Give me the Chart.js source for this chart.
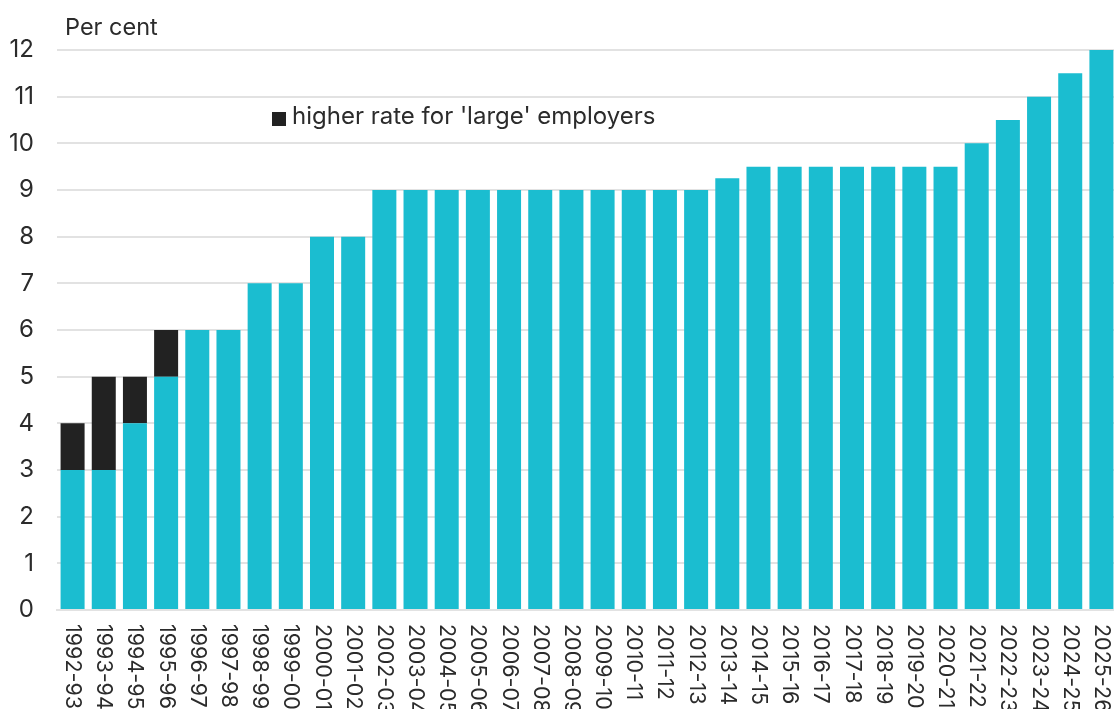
<!DOCTYPE html>
<html lang="en">
<head>
    <meta charset="UTF-8">
    <title>Superannuation Guarantee Rate</title>
    <script src="https://cdn.jsdelivr.net/npm/chart.js"></script>
    <style>
        html, body { margin: 0; padding: 0; overflow: hidden; background: #fff; }
        #wrap { width: 1117px; height: 709px; }
    </style>
</head>
<body>
    <div id="wrap">
        <canvas id="sgChart"></canvas>
    </div>

    <script>
        // Financial years
        const years = [
            '1992-93', '1993-94', '1994-95', '1995-96', '1996-97', '1997-98', '1998-99', '1999-00',
            '2000-01', '2001-02', '2002-03', '2003-04', '2004-05', '2005-06', '2006-07', '2007-08',
            '2008-09', '2009-10', '2010-11', '2011-12', '2012-13', '2013-14', '2014-15', '2015-16',
            '2016-17', '2017-18', '2018-19', '2019-20', '2020-21', '2021-22', '2022-23', '2023-24',
            '2024-25', '2025-26'
        ];

        // Base rate (per cent)
        const baseRate = [
            3, 3, 4, 5, 6, 6, 7, 7,
            8, 8, 9, 9, 9, 9, 9, 9,
            9, 9, 9, 9, 9, 9.25, 9.5, 9.5,
            9.5, 9.5, 9.5, 9.5, 9.5, 10, 10.5, 11,
            11.5, 12
        ];

        // Extra on top of the base rate for 'large' employers
        const largeExtra = [
            1, 2, 1, 1, 0, 0, 0, 0,
            0, 0, 0, 0, 0, 0, 0, 0,
            0, 0, 0, 0, 0, 0, 0, 0,
            0, 0, 0, 0, 0, 0, 0, 0,
            0, 0
        ];

        const yTicks = [0, 1, 2, 3, 4, 5, 6, 7, 8, 9, 10, 11, 12];

        const teal = '#1bbdd0';
        const dark = '#222222';
        const textColor = '#2b2b2b';
        const fontFamily = 'Inter, "Noto Sans", sans-serif';

        // x labels (rotated clockwise), unit label and inline legend
        const extras = {
            id: 'extras',
            afterDraw(chart) {
                const ctx = chart.ctx;
                const xScale = chart.scales.x;
                const area = chart.chartArea;
                ctx.save();
                ctx.fillStyle = textColor;
                ctx.font = '21.5px ' + fontFamily;
                ctx.textAlign = 'left';
                ctx.textBaseline = 'middle';
                years.forEach((y, i) => {
                    const x = xScale.getPixelForValue(i);
                    ctx.save();
                    ctx.translate(x, area.bottom + 14);
                    ctx.rotate(Math.PI / 2);
                    ctx.fillText(y, 0, 0);
                    ctx.restore();
                });

                ctx.font = '23.5px ' + fontFamily;
                ctx.fillText('Per cent', 65, 28);

                ctx.fillStyle = dark;
                ctx.fillRect(272, 112, 14, 14);
                ctx.fillStyle = textColor;
                ctx.font = '24px ' + fontFamily;
                ctx.fillText(chart.data.datasets[1].label, 292, 117);
                ctx.restore();
            }
        };

        new Chart(document.getElementById('sgChart'), {
            type: 'bar',
            data: {
                labels: years,
                datasets: [{
                    label: 'Superannuation guarantee rate',
                    data: baseRate,
                    backgroundColor: teal,
                    categoryPercentage: 1,
                    barPercentage: 0.77
                }, {
                    label: "higher rate for 'large' employers",
                    data: largeExtra,
                    backgroundColor: dark,
                    categoryPercentage: 1,
                    barPercentage: 0.77
                }]
            },
            options: {
                responsive: true,
                maintainAspectRatio: false,
                animation: false,
                layout: {
                    padding: { left: 0, top: 50, right: 0, bottom: 91 }
                },
                plugins: {
                    legend: { display: false },
                    tooltip: { enabled: false }
                },
                scales: {
                    x: {
                        stacked: true,
                        grid: { display: false },
                        border: { display: true, color: '#e2e2e2', width: 2 },
                        ticks: { display: false }
                    },
                    y: {
                        stacked: true,
                        min: 0,
                        max: 12,
                        afterBuildTicks(scale) {
                            scale.ticks = yTicks.map(v => ({ value: v }));
                        },
                        afterFit(scale) {
                            scale.width = 57;
                        },
                        grid: { color: '#e2e2e2', lineWidth: 2, drawTicks: false },
                        border: { display: false },
                        ticks: {
                            color: textColor,
                            padding: 23,
                            font: { family: fontFamily, size: 24 }
                        }
                    }
                }
            },
            plugins: [extras]
        });
    </script>
</body>
</html>
